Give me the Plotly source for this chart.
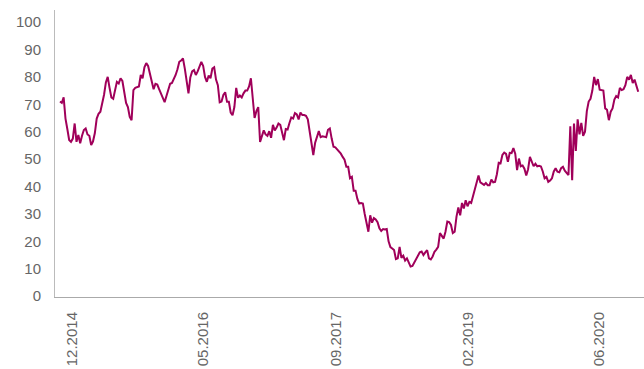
import pandas as pd
import plotly.graph_objects as go

# Weekly values
values = [
    71, 70.5, 72.5, 64.8, 61, 57, 56.3, 57.5, 63, 56.3,
    58.8, 55.8, 58.5, 60.6, 61.2, 59, 58.5, 55.1, 56.5, 59.5,
    64.8, 66.5, 67.3, 70, 73.5, 78, 80, 76, 72.5, 72,
    75.5, 78.2, 77.6, 79.5, 78.5, 74, 70.5, 69, 65.4, 64.2,
    75.2, 76, 76.2, 76.5, 80.7, 79.5, 83.5, 85, 84, 81,
    77.6, 75.5, 77.5, 77.2, 75.5, 74, 72.5, 70.8, 73, 75.2,
    77.5, 77.8, 79, 80.7, 82.8, 85.5, 86, 86.7, 83, 77.6,
    74, 79.8, 82, 82.5, 80.7, 82, 84, 85.5, 84, 80,
    78.2, 80.5, 79.5, 83, 83.5, 79, 77, 70.7, 71, 73.4,
    74.4, 70.9, 70.9, 67, 66, 69, 76, 72.4, 73.2, 72.5,
    74, 75, 75, 76.5, 79.5, 70.5, 65, 67.5, 69, 56.3,
    58.5, 60.5, 59, 58.5, 60.2, 57.8, 62.5, 60.5, 61.5, 63,
    62.5, 59, 56.9, 61, 60.8, 63.2, 65.2, 64.8, 66.8, 66.3,
    64.5, 67, 66.1, 66.1, 65.8, 64.5, 60, 55, 51.5, 56,
    58.5, 60.2, 58, 58.3, 58.2, 58, 60.7, 61.2, 57.5, 54.5,
    54.3, 53.5, 53, 52, 50.8, 49.8, 47.2, 47.2, 43, 43.5,
    38.5, 38.5, 35.5, 33.8, 34, 33.8, 30, 27.1, 23.5, 29.5,
    26.8, 28.5, 28, 27, 24.8, 23.8, 24.5, 24.3, 24.5, 20,
    17.9, 17.4, 16.8, 13.5, 13.8, 18, 14, 14.8, 13, 13.8,
    12.2, 10.8, 11, 12.3, 13.2, 14.5, 16, 16.3, 15, 16,
    16.8, 13.8, 13.4, 14.5, 16.2, 17, 18, 23, 22, 21,
    23.5, 27.2, 27, 26, 23, 23.5, 29, 32.4, 29.5, 34,
    32, 35, 32.8, 34.4, 34, 36.5, 38, 40.5, 44, 41.5,
    41, 40.6, 41.3, 40.5, 40.5, 42.5, 41.5, 41.7, 44.5, 48.7,
    48.5, 51.5, 52.4, 51.9, 49, 52.3, 52.2, 54, 52, 46,
    50.2, 47.4, 47.7, 46.5, 44, 46.3, 50.8, 48.8, 47.4, 48.3,
    47.4, 47.6, 47.3, 45.5, 43, 43.5, 41.7, 42.2, 43, 45.5,
    46.7, 45.4, 45.2, 46.7, 47.2, 45.8, 45, 44.2, 62, 42.3,
    63, 53, 64.5, 59, 63.2, 58.5, 60, 67.5, 71, 72,
    75, 80, 77, 79.2, 75.3, 75, 75, 68.5, 68, 64.2,
    67.3, 68.5, 71.7, 73, 72.5, 76, 75.2, 75.5, 77, 80,
    79, 80.7, 77.8, 79, 76.5, 74.6,
]
start_date = "2014-10-16"
dates = pd.date_range(start_date, periods=len(values), freq="7D")

tick_dates = ["2014-12-01", "2016-04-13", "2017-09-02", "2019-01-18", "2020-06-01"]
tick_labels = ["12.2014", "05.2016", "09.2017", "02.2019", "06.2020"]
y_ticks = list(range(0, 101, 10))

fig = go.Figure(
    go.Scatter(
        x=dates, y=values, mode="lines",
        line=dict(color="#A0005A", width=2),
        hoverinfo="skip",
    )
)

font = dict(family="Liberation Sans, Arial, sans-serif", size=15, color="#666666")

fig.update_layout(
    width=644, height=369,
    margin=dict(l=55, r=0, t=10, b=72, autoexpand=False),
    paper_bgcolor="white", plot_bgcolor="white",
    showlegend=False,
    font=font,
)
fig.update_xaxes(
    type="date",
    automargin=False,
    range=["2014-09-27", "2020-11-20"],
    tickmode="array", tickvals=tick_dates, ticktext=tick_labels,
    tickangle=-90, tickfont=font,
    ticks="outside", ticklen=8, tickcolor="rgba(0,0,0,0)",
    showgrid=False, zeroline=False,
    showline=True, linecolor="#aaaaaa", linewidth=1,
)
fig.update_yaxes(
    automargin=False,
    range=[-0.3, 104.4],
    tickmode="array", tickvals=y_ticks,
    tickfont=font,
    ticks="outside", ticklen=10, tickcolor="rgba(0,0,0,0)",
    showgrid=False, zeroline=False,
    showline=True, linecolor="#bbbbbb", linewidth=1,
)

fig.write_html(
    "out.html",
    config={"displayModeBar": False},
    post_script="document.body.style.margin='0';document.body.style.overflow='hidden';",
)
